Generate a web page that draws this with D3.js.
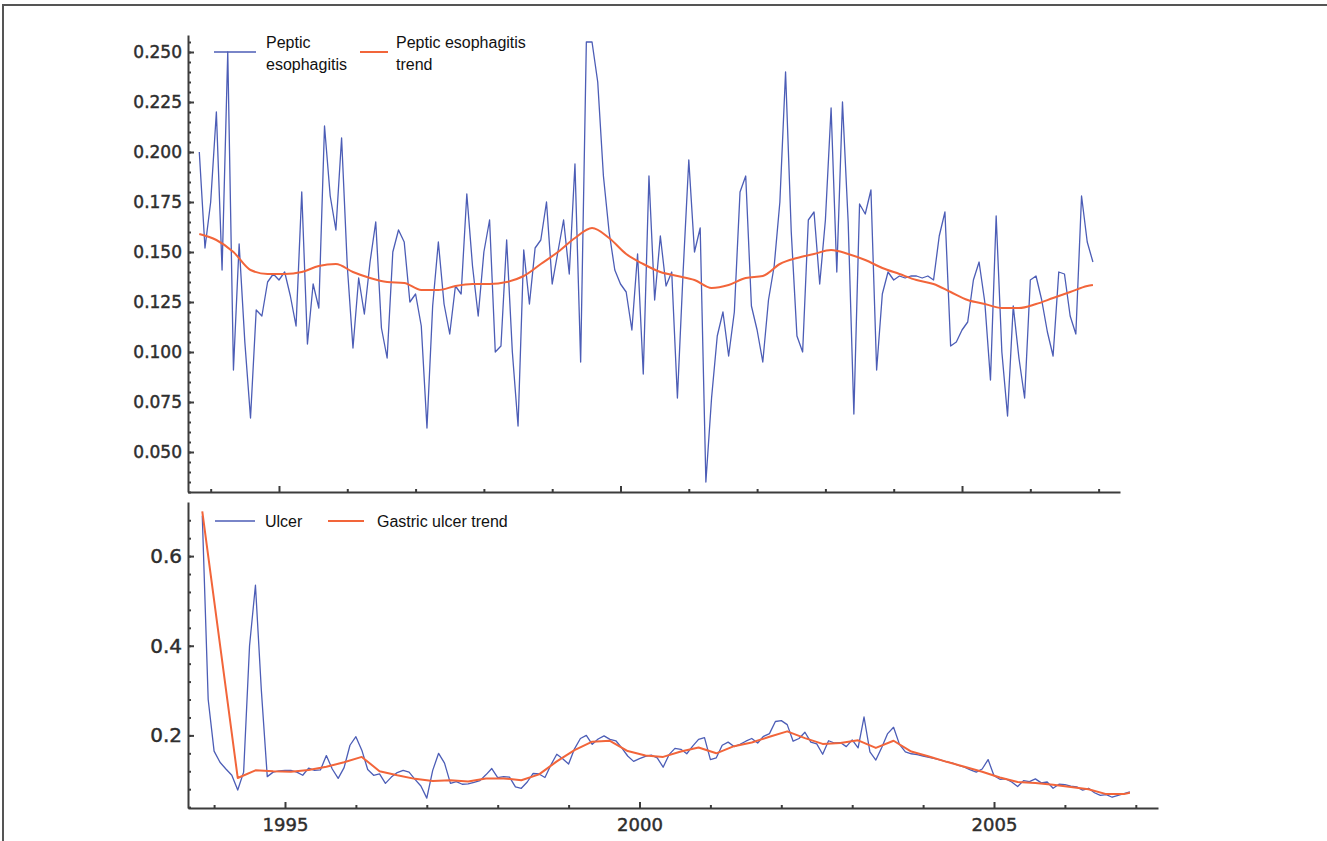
<!DOCTYPE html>
<html>
<head>
<meta charset="utf-8">
<script src="https://cdn.jsdelivr.net/npm/d3@7"></script>
<style>
  body { margin: 0; background: #fff; }
  .axis path, .axis line { stroke: #3c3c3c; stroke-width: 2; }
  .axis text { font-family: "DejaVu Sans", sans-serif; fill: #2e2e2e; stroke: #2e2e2e; stroke-width: 0.45px; }
  .legend text { font-family: "Liberation Sans", Arial, sans-serif; font-size: 16px; fill: #111; }
</style>
</head>
<body>
<svg id="chart" width="1327" height="841"></svg>
<script>
// monthly series, first month is Nov 1993
var seriesStart = 1993 + 10 / 12;

var pepticValues = [
  0.200, 0.152, 0.175, 0.220, 0.141, 0.250, 0.091, 0.154, 0.105, 0.067,
  0.121, 0.118, 0.135, 0.139, 0.136, 0.140, 0.128, 0.113, 0.180, 0.104,
  0.134, 0.122, 0.213, 0.178, 0.161, 0.207, 0.143, 0.102, 0.137, 0.119,
  0.145, 0.165, 0.112, 0.097, 0.150, 0.161, 0.155, 0.125, 0.129, 0.113,
  0.062, 0.123, 0.155, 0.124, 0.109, 0.133, 0.129, 0.179, 0.143, 0.118,
  0.150, 0.166, 0.100, 0.103, 0.156, 0.100, 0.063, 0.151, 0.124, 0.152,
  0.156, 0.175, 0.134, 0.150, 0.166, 0.139, 0.194, 0.095, 0.255, 0.255,
  0.235, 0.188, 0.160, 0.141, 0.134, 0.130, 0.111, 0.149, 0.089, 0.188,
  0.126, 0.158, 0.133, 0.140, 0.077, 0.140, 0.196, 0.150, 0.162, 0.035,
  0.077, 0.108, 0.120, 0.098, 0.120, 0.180, 0.188, 0.123, 0.111, 0.095,
  0.126, 0.143, 0.175, 0.240, 0.160, 0.108, 0.100, 0.166, 0.170, 0.134,
  0.166, 0.222, 0.140, 0.225, 0.165, 0.069, 0.174, 0.169, 0.181, 0.091,
  0.129, 0.140, 0.136, 0.138, 0.137, 0.138, 0.138, 0.137, 0.138, 0.136,
  0.158, 0.170, 0.103, 0.105, 0.111, 0.115, 0.136, 0.145, 0.125, 0.086,
  0.168, 0.100, 0.068, 0.123, 0.097, 0.077, 0.136, 0.138, 0.126, 0.110,
  0.098, 0.140, 0.139, 0.118, 0.109, 0.178, 0.155, 0.145
];

// trend read every third month (offset from first month)
var pepticTrendMonths = [0, 3, 6, 9, 12, 15, 18, 21, 24, 27, 30, 33, 36, 39, 42, 45, 48, 51,
  54, 57, 60, 63, 66, 69, 72, 75, 78, 81, 84, 87, 90, 93, 96, 99, 102, 105, 108, 111,
  114, 117, 120, 123, 126, 129, 132, 135, 138, 141, 144, 147, 150, 153, 156, 157];
var pepticTrendValues = [
  0.159, 0.156, 0.150, 0.141, 0.139, 0.139, 0.140, 0.143, 0.144, 0.140,
  0.137, 0.135, 0.1345, 0.131, 0.131, 0.133, 0.134, 0.134, 0.135, 0.138,
  0.144, 0.150, 0.157, 0.162, 0.157, 0.149, 0.144, 0.140, 0.138, 0.136,
  0.132, 0.1335, 0.137, 0.138, 0.144, 0.147, 0.149, 0.151, 0.149, 0.146,
  0.142, 0.139, 0.136, 0.134, 0.130, 0.126, 0.124, 0.122, 0.122, 0.124,
  0.127, 0.130, 0.133, 0.1335
];

var ulcerValues = [
  0.69, 0.28, 0.165, 0.14, 0.125, 0.111, 0.078, 0.118, 0.40, 0.535,
  0.30, 0.108, 0.118, 0.121, 0.122, 0.122, 0.118, 0.111, 0.127, 0.122,
  0.123, 0.155, 0.125, 0.104, 0.128, 0.178, 0.197, 0.167, 0.124, 0.111,
  0.114, 0.093, 0.107, 0.117, 0.122, 0.118, 0.102, 0.087, 0.060, 0.122,
  0.160, 0.138, 0.093, 0.097, 0.091, 0.092, 0.095, 0.099, 0.112, 0.126,
  0.106, 0.108, 0.107, 0.085, 0.082, 0.096, 0.115, 0.114, 0.106, 0.134,
  0.158, 0.148, 0.136, 0.170, 0.193, 0.200, 0.180, 0.192, 0.199, 0.191,
  0.188, 0.172, 0.154, 0.142, 0.148, 0.153, 0.156, 0.150, 0.129, 0.157,
  0.171, 0.169, 0.159, 0.176, 0.191, 0.195, 0.146, 0.150, 0.178, 0.185,
  0.175, 0.180, 0.187, 0.193, 0.183, 0.198, 0.204, 0.231, 0.233, 0.224,
  0.187, 0.193, 0.207, 0.185, 0.181, 0.158, 0.188, 0.183, 0.184, 0.175,
  0.190, 0.172, 0.241, 0.163, 0.145, 0.173, 0.204, 0.218, 0.180, 0.163,
  0.159, 0.157, 0.154, 0.151, 0.148, 0.145, 0.141, 0.138, 0.133, 0.129,
  0.123, 0.118, 0.125, 0.146, 0.110, 0.102, 0.103, 0.096, 0.086, 0.099,
  0.097, 0.103, 0.094, 0.096, 0.082, 0.091, 0.090, 0.087, 0.085, 0.078,
  0.082, 0.072, 0.066, 0.068, 0.062, 0.066, 0.070, 0.074
];

var ulcerTrendMonths = [0, 6, 9, 12, 15, 18, 21, 24, 27, 30, 33, 36, 39, 42, 45, 48, 51,
  54, 57, 60, 63, 66, 69, 72, 75, 78, 81, 84, 87, 90, 93, 96, 99, 102, 105, 108, 111,
  114, 117, 120, 123, 126, 129, 132, 135, 138, 141, 144, 147, 150, 153, 156, 157];
var ulcerTrendValues = [
  0.70, 0.105, 0.122, 0.120, 0.119, 0.123, 0.130, 0.140, 0.152, 0.120,
  0.111, 0.103, 0.098, 0.100, 0.097, 0.104, 0.104, 0.100, 0.113, 0.142,
  0.167, 0.186, 0.188, 0.165, 0.155, 0.152, 0.164, 0.173, 0.160, 0.176,
  0.184, 0.197, 0.209, 0.194, 0.181, 0.183, 0.189, 0.172, 0.188, 0.164,
  0.153, 0.141, 0.130, 0.119, 0.106, 0.096, 0.094, 0.090, 0.085, 0.080,
  0.069, 0.069, 0.072
];

var topYMajor = [0.050, 0.075, 0.100, 0.125, 0.150, 0.175, 0.200, 0.225, 0.250];
var bottomYMajor = [0.2, 0.4, 0.6];
var yearMajor = [1995, 2000, 2005];
var yearMinor = [1994, 1996, 1997, 1998, 1999, 2001, 2002, 2003, 2004, 2006, 2007];

var blue = "#4c5db6", orange = "#f2653a";

var svg = d3.select("#chart");

// frame (top and left edge only)
svg.append("path")
  .attr("d", "M3,841V5H1327")
  .attr("fill", "none")
  .attr("stroke", "#555")
  .attr("stroke-width", 2);

function toPoints(months, values) {
  return values.map(function (v, i) {
    return { t: seriesStart + months[i] / 12, v: v };
  });
}
function monthly(values) {
  return values.map(function (v, i) { return { t: seriesStart + i / 12, v: v }; });
}

function drawPanel(opts) {
  var x = d3.scaleLinear().domain(opts.xDomain).range(opts.xRange);
  var y = d3.scaleLinear().domain(opts.yDomain).range(opts.yRange);
  var g = svg.append("g");

  // minor ticks first
  g.append("g").attr("class", "axis")
    .attr("transform", "translate(" + opts.xRange[0] + ",0)")
    .call(d3.axisLeft(y).tickValues(opts.yMinor).tickSize(-3).tickFormat(""))
    .call(function (s) { s.select(".domain").remove(); });
  g.append("g").attr("class", "axis")
    .attr("transform", "translate(0," + opts.yRange[0] + ")")
    .call(d3.axisBottom(x).tickValues(yearMinor).tickSize(-3).tickFormat(""))
    .call(function (s) { s.select(".domain").remove(); });

  var yAxis = g.append("g").attr("class", "axis")
    .attr("transform", "translate(" + opts.xRange[0] + ",0)")
    .call(d3.axisLeft(y).tickValues(opts.yMajor).tickSize(-6).tickSizeOuter(0)
      .tickPadding(6).tickFormat(d3.format(opts.yFormat)));
  yAxis.selectAll("text").style("font-size", opts.yFont + "px");

  var xAxis = g.append("g").attr("class", "axis")
    .attr("transform", "translate(0," + opts.yRange[0] + ")")
    .call(d3.axisBottom(x).tickValues(yearMajor).tickSize(-6).tickSizeOuter(0)
      .tickPadding(10).tickFormat(opts.xLabels ? d3.format("d") : ""));
  xAxis.selectAll("text").style("font-size", "18px");

  var line = d3.line().x(function (d) { return x(d.t); }).y(function (d) { return y(d.v); });
  var trend = d3.line().curve(opts.trendCurve)
    .x(function (d) { return x(d.t); }).y(function (d) { return y(d.v); });

  g.append("path").datum(opts.data)
    .attr("fill", "none").attr("stroke", blue).attr("stroke-width", 1.3)
    .attr("stroke-linejoin", "round").attr("d", line);
  g.append("path").datum(opts.trend)
    .attr("fill", "none").attr("stroke", orange).attr("stroke-width", 2)
    .attr("stroke-linejoin", "round").attr("d", trend);

  // legend
  var lg = svg.append("g").attr("class", "legend");
  opts.legend.forEach(function (item) {
    lg.append("line")
      .attr("x1", item.x).attr("x2", item.x + item.w)
      .attr("y1", item.y).attr("y2", item.y)
      .attr("stroke", item.color).attr("stroke-width", item.color === blue ? 1.5 : 2);
    item.lines.forEach(function (txt, i) {
      lg.append("text")
        .attr("x", item.tx).attr("y", item.ty + i * 22)
        .text(txt);
    });
  });
}

drawPanel({
  xDomain: [1993.668, 2007.313], xRange: [188, 1120],
  yDomain: [0.030, 0.2585], yRange: [492, 35],
  yMajor: topYMajor, yMinor: d3.range(0.030, 0.2586, 0.005),
  yFormat: ".3f", yFont: 17, xLabels: false,
  trendCurve: d3.curveMonotoneX,
  data: monthly(pepticValues),
  trend: toPoints(pepticTrendMonths, pepticTrendValues),
  legend: [
    { x: 214, w: 42, y: 52, color: blue, tx: 266, ty: 48, lines: ["Peptic", "esophagitis"] },
    { x: 360, w: 28, y: 52, color: orange, tx: 396, ty: 48, lines: ["Peptic esophagitis", "trend"] }
  ]
});

drawPanel({
  xDomain: [1993.632, 2007.313], xRange: [188, 1158],
  yDomain: [0.038, 0.7207], yRange: [808, 502],
  yMajor: bottomYMajor, yMinor: d3.range(0.04, 0.72, 0.04),
  yFormat: ".1f", yFont: 20, xLabels: true,
  trendCurve: d3.curveLinear,
  data: monthly(ulcerValues),
  trend: toPoints(ulcerTrendMonths, ulcerTrendValues),
  legend: [
    { x: 215, w: 40, y: 521, color: blue, tx: 265, ty: 527, lines: ["Ulcer"] },
    { x: 328, w: 36, y: 521, color: orange, tx: 377, ty: 527, lines: ["Gastric ulcer trend"] }
  ]
});
</script>
</body>
</html>
